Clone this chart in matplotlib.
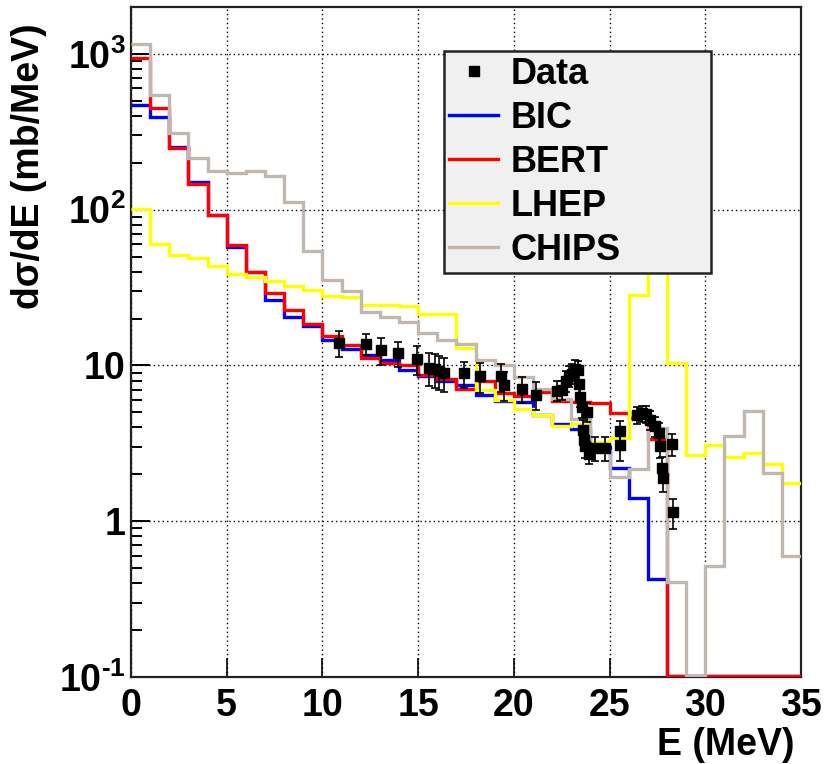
import numpy as np
import matplotlib
matplotlib.use('Agg')
import matplotlib.pyplot as plt
from matplotlib.lines import Line2D
from matplotlib.ticker import FixedLocator, FixedFormatter, LogLocator, NullFormatter

# ---------------- data ----------------
bin_edges = list(range(0, 36))  # 1 MeV bins, 0..35 MeV

bic = [471, 396, 253, 150, 93, 58, 40, 26.3, 20.5, 17.8,
       14.6, 12.7, 11.7, 10.9, 9.3, 8.6, 8.0, 7.5, 6.5, 5.9,
       5.8, 4.83, 4.18, 3.88, 3.0, 2.18, 1.40, 0.428, 0, 0,
       0, 0, 0, 0, 0]
bert = [937, 448, 248, 147, 92, 59, 40, 29, 22.7, 18.5,
        15.5, 13.5, 11.2, 10.3, 10.1, 8.65, 8.2, 7.1, 7.95, 6.7,
        6.35, 6.8, 5.9, 5.85, 5.7, 4.96, 4.61, 3.35, 0, 0,
        0, 0, 0, 0, 0]
lhep = [101, 60, 51, 49, 43.5, 38.7, 37, 35, 32.5, 30.7,
        28, 27.4, 24.5, 24.5, 24, 21.3, 21.3, 12.9, 6.95, 6.0,
        5.26, 4.8, 4.06, 4.2, 3.23, 3.4, 28.5, 60, 10.4, 2.65,
        3.07, 2.6, 2.73, 2.32, 1.76]
chips = [1160, 541, 310, 215, 176, 173, 178, 164, 112, 54.5,
         35.4, 30, 21.9, 20.6, 18.9, 16.1, 14.5, 13.8, 10.9, 10.0,
         8.45, 7.05, 6.05, 4.5, 2.83, 1.93, 2.16, 3.94, 0.408, 0,
         0.516, 3.52, 5.09, 2.03, 0.598]

data_e = [10.85, 12.28, 13.06, 13.93, 14.93, 15.59, 15.88, 16.11, 16.37, 17.40,
          18.22, 19.35, 19.47, 20.41, 21.16, 22.25, 22.51, 22.74, 22.86, 23.03,
          23.20, 23.33, 23.40, 23.47, 23.55, 23.60, 23.64, 23.73, 23.82, 23.90,
          24.25, 24.77, 25.52, 25.52, 26.43, 26.69, 26.92, 27.13, 27.39, 27.56,
          27.65, 27.73, 27.79, 28.26, 28.31]
data_y = [14.0, 13.8, 12.5, 12.0, 11.0, 9.7, 9.5, 9.25, 9.0, 8.9,
          8.5, 8.5, 7.5, 7.07, 6.5, 6.9, 7.0, 8.0, 8.6, 8.85,
          9.5, 9.3, 7.6, 6.3, 5.4, 3.86, 3.34, 3.03, 5.05, 2.72,
          2.95, 2.95, 3.77, 3.10, 4.81, 4.93, 4.88, 4.47, 4.06, 3.68,
          3.03, 2.2, 1.9, 3.12, 1.14]
data_err = [2.6, 2.2, 2.5, 2.2, 2.3, 2.3, 2.3, 2.3, 2.2, 1.7,
            1.8, 1.7, 1.6, 1.3, 1.3, 1.0, 1.0, 1.2, 1.3, 1.3,
            1.4, 1.4, 1.1, 0.9, 0.8, 0.6, 0.5, 0.5, 0.7, 0.4,
            0.5, 0.5, 0.6, 0.65, 0.6, 0.6, 0.6, 0.6, 0.6, 0.6,
            0.5, 0.4, 0.35, 0.5, 0.25]

series_labels = ['BIC', 'BERT', 'LHEP', 'CHIPS']
series_colors = ['#0000ff', '#ff0000', '#ffff00', '#c0b8b0']

x_ticks = [0, 5, 10, 15, 20, 25, 30, 35]
y_ticks = [0.1, 1, 10, 100, 1000]
y_tick_labels = [r'$10^{\text{-1}}$', '1', '10', r'$10^{2}$', r'$10^{3}$']

YMIN, YMAX = 0.1, 2000

# ---------------- style ----------------
plt.rcParams['font.family'] = ['Liberation Sans', 'DejaVu Sans']
plt.rcParams['font.weight'] = 'bold'
plt.rcParams['mathtext.fontset'] = 'custom'
plt.rcParams['mathtext.rm'] = 'Liberation Sans:bold'
plt.rcParams['mathtext.bf'] = 'Liberation Sans:bold'
plt.rcParams['mathtext.it'] = 'Liberation Sans:bold'
plt.rcParams['mathtext.default'] = 'rm'

FS = 27

fig = plt.figure(figsize=(8.24, 7.64), dpi=100)
ax = fig.add_axes([131/824, 87/764, 670/824, 670/764])

ax.set_yscale('log')
ax.set_xlim(0, 35)
ax.set_ylim(YMIN, YMAX)

# grid
ax.set_axisbelow(True)
ax.grid(True, which='major', color='black', linestyle=(0, (1, 2.2)), linewidth=1.0)

# histograms
for vals, lab, col in zip([bic, bert, lhep, chips], series_labels, series_colors):
    v = np.array(vals, dtype=float)
    v = np.where(v > 0, v, YMIN * 1.02)
    ax.stairs(v, bin_edges, baseline=None, color=col, linewidth=2.4, label=lab, zorder=3)

# data
ax.errorbar(data_e, data_y, yerr=data_err, fmt='s', color='black', markersize=7.5,
            elinewidth=1.2, capsize=3, capthick=1.2, zorder=4)

# ticks
ax.xaxis.set_major_locator(FixedLocator(x_ticks))
ax.set_xticklabels([str(t) for t in x_ticks])
ax.yaxis.set_major_locator(FixedLocator(y_ticks))
ax.yaxis.set_major_formatter(FixedFormatter(y_tick_labels))
ax.yaxis.set_minor_locator(LogLocator(base=10, subs=np.arange(2, 10)))
ax.yaxis.set_minor_formatter(NullFormatter())
ax.tick_params(axis='y', which='major', direction='in', length=14, width=1.4,
               labelsize=FS, pad=4, left=True, right=False)
ax.tick_params(axis='y', which='minor', direction='in', length=8, width=1.4,
               left=True, right=False)
ax.tick_params(axis='x', which='major', direction='in', length=14, width=1.2,
               labelsize=FS, pad=8, bottom=True, top=False)
ax.tick_params(axis='x', which='minor', bottom=False, top=False)

for s in ax.spines.values():
    s.set_linewidth(1.6)
    s.set_color('#222222')

# labels
ax.set_xlabel('E (MeV)', fontsize=FS, fontweight='bold', ha='right')
ax.xaxis.set_label_coords(0.99, -0.075)
ax.set_ylabel('d\u03c3/dE (mb/MeV)', fontsize=FS, fontweight='bold', ha='right')
ax.yaxis.set_label_coords(-0.125, 0.975)

# legend
handles = [Line2D([], [], marker='s', color='black', linestyle='none', markersize=7)]
handles += [Line2D([], [], color=c, linewidth=2.4) for c in series_colors]
leg = ax.legend(handles, ['Data'] + series_labels, loc='upper left',
                bbox_to_anchor=(0.467, 0.6, 0.399, 0.334), mode='expand',
                fontsize=26, frameon=True, fancybox=False, framealpha=1,
                facecolor='#f0f0f0', edgecolor='#222222', borderpad=0.15,
                labelspacing=0.25, handlelength=1.35, handletextpad=0.35,
                borderaxespad=0)
leg.get_frame().set_linewidth(1.8)
leg.set_zorder(10)

fig.savefig('out.png', dpi=100)
